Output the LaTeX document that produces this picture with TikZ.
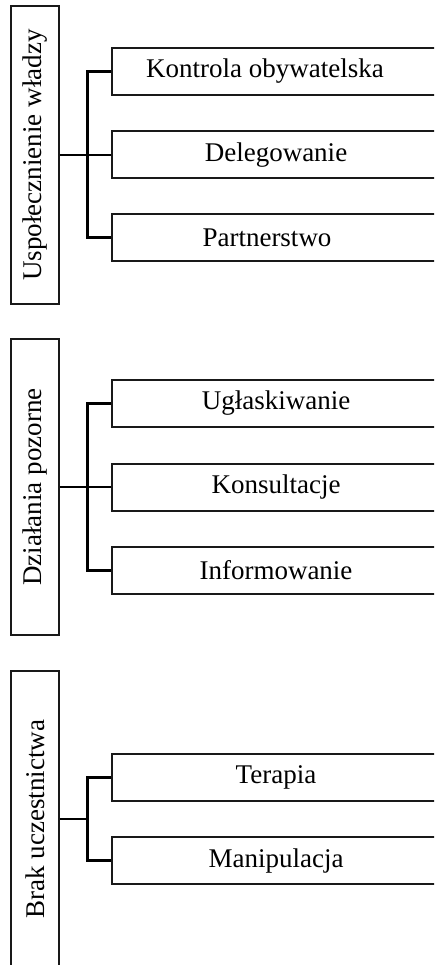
\documentclass[tikz,border=0pt]{standalone}
\usepackage{fontspec}
\setmainfont{Liberation Serif}
\begin{document}
\begin{tikzpicture}[x=1pt,y=-1pt,
  every node/.style={font=\fontsize{27}{31}\selectfont, text=black},
  groupbox/.style={draw=black!90, line width=1.8pt, minimum width=298pt, minimum height=48pt, rotate=90, inner sep=0pt},
  itembox/.style={draw=black!90, line width=2pt, minimum width=328pt, minimum height=47pt, inner sep=0pt},
  trunk/.style={draw=black, line width=3pt},
  stub/.style={draw=black, line width=2.8pt}]
\useasboundingbox (0,0) rectangle (434,965);
\clip (0,0) rectangle (434,965);
% group 1
\node[groupbox] (L1) at (35,155) {Uspołecznienie władzy};
\node[itembox] (A1) at (276,71.5) {Kontrola obywatelska\kern22pt};
\node[itembox] (A2) at (276,155) {Delegowanie};
\node[itembox] (A3) at (276,237.5) {Partnerstwo\kern18pt};
\coordinate (t1) at (87,155);
\draw[trunk] (A1.west) -| (t1) |- (A3.west);
\draw[stub] (L1.south) -- (A2.west);
% group 2
\node[groupbox, minimum width=296pt] (L2) at (35,487) {Działania pozorne};
\node[itembox] (B1) at (276,403.5) {Ugłaskiwanie};
\node[itembox] (B2) at (276,487) {Konsultacje};
\node[itembox] (B3) at (276,570) {Informowanie};
\coordinate (t2) at (87,487);
\draw[trunk] (B1.west) -| (t2) |- (B3.west);
\draw[stub] (L2.south) -- (B2.west);
% group 3
\node[groupbox, minimum width=296pt] (L3) at (35,819) {Brak uczestnictwa};
\node[itembox] (C1) at (276,777) {Terapia};
\node[itembox] (C2) at (276,860.5) {Manipulacja};
\coordinate (t3) at (87,819);
\draw[trunk] (C1.west) -| (t3) |- (C2.west);
\draw[stub] (L3.south) -- (t3);
\end{tikzpicture}
\end{document}
